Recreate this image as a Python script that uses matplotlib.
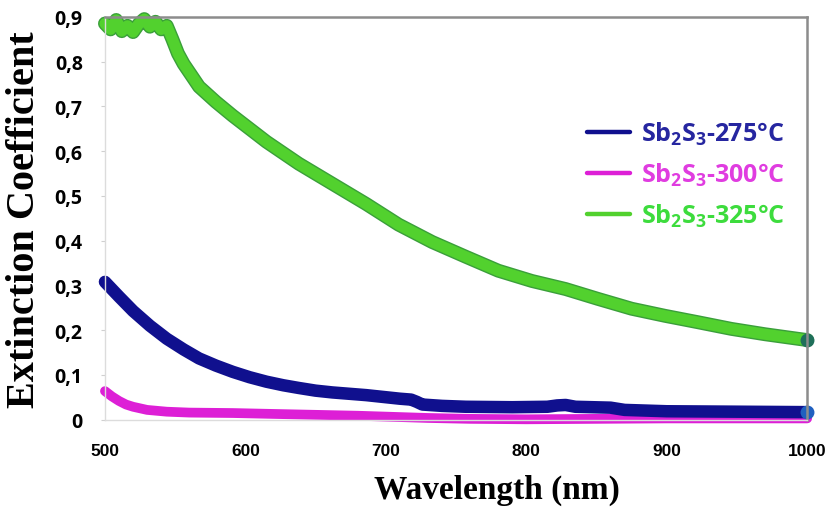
import matplotlib
matplotlib.use("Agg")
import matplotlib.pyplot as plt
import matplotlib.patheffects as pe

# values
wl_275 = [500, 510, 520, 532, 544, 556, 567, 579, 591, 603, 615, 627, 638, 650,
          662, 674, 686, 698, 710, 718, 722, 726, 740, 757, 790, 815, 822, 828,
          835, 860, 870, 900, 950, 1000]
k_275 = [0.308, 0.275, 0.243, 0.210, 0.181, 0.157, 0.137, 0.121, 0.107, 0.095,
         0.085, 0.077, 0.071, 0.065, 0.061, 0.058, 0.055, 0.051, 0.047, 0.045,
         0.040, 0.034, 0.031, 0.029, 0.028, 0.029, 0.032, 0.033, 0.029, 0.027,
         0.022, 0.019, 0.018, 0.017]

wl_300 = [500, 505, 510, 515, 520, 530, 544, 560, 591, 620, 650, 680, 700, 730,
          760, 800, 850, 900, 950, 1000]
k_300 = [0.064, 0.052, 0.042, 0.034, 0.029, 0.022, 0.018, 0.016, 0.015, 0.013,
         0.011, 0.009, 0.007, 0.004, 0.002, 0.001, 0.002, 0.003, 0.003, 0.003]

wl_325 = [500, 504, 508, 512, 516, 520, 524, 528, 532, 536, 540, 544, 548, 552,
          556, 567, 579, 591, 615, 638, 662, 686, 709, 733, 757, 780, 804, 828,
          851, 875, 899, 922, 946, 970, 1000]
k_325 = [0.885, 0.872, 0.893, 0.868, 0.880, 0.866, 0.884, 0.895, 0.878, 0.889,
         0.872, 0.880, 0.850, 0.818, 0.795, 0.744, 0.710, 0.679, 0.621, 0.572,
         0.527, 0.482, 0.436, 0.397, 0.364, 0.333, 0.310, 0.292, 0.270, 0.248,
         0.232, 0.218, 0.203, 0.191, 0.178]

labels = ["Sb$_\\mathbf{2}$S$_\\mathbf{3}$-275°C",
          "Sb$_\\mathbf{2}$S$_\\mathbf{3}$-300°C",
          "Sb$_\\mathbf{2}$S$_\\mathbf{3}$-325°C"]
x_ticks = [500, 600, 700, 800, 900, 1000]
y_ticks = [0, 0.1, 0.2, 0.3, 0.4, 0.5, 0.6, 0.7, 0.8, 0.9]
y_ticklabels = ["0", "0,1", "0,2", "0,3", "0,4", "0,5", "0,6", "0,7", "0,8", "0,9"]

plt.rcParams['mathtext.fontset'] = 'custom'
plt.rcParams['mathtext.rm'] = 'Open Sans'
plt.rcParams['mathtext.bf'] = 'Open Sans:bold'

fig = plt.figure(figsize=(8.33, 5.10), dpi=100)
ax = fig.add_axes([0.126, 0.175, 0.843, 0.790])

blue = '#10108e'
pink = '#dd1fd6'
green = '#52d12e'

ax.plot(wl_300, k_300, color=pink, lw=7, solid_capstyle='round', clip_on=False,
        label=labels[1])
ax.plot(wl_275, k_275, color=blue, lw=9, solid_capstyle='round', clip_on=False,
        label=labels[0])
ax.plot(wl_325, k_325, color=green, lw=8, solid_capstyle='round', clip_on=False,
        label=labels[2],
        path_effects=[pe.Stroke(linewidth=10, foreground='#3a9f3a'), pe.Normal()])
# dark end points like the original
ax.plot([wl_325[-1]], [k_325[-1]], 'o', ms=9, color='#1f6f5a', clip_on=False)
ax.plot([wl_275[-1]], [k_275[-1]], 'o', ms=9, color='#2060c0', clip_on=False)

ax.set_xlim(500, 1000)
ax.set_ylim(0, 0.9)
ax.set_xticks(x_ticks)
ax.set_xticklabels([str(v) for v in x_ticks], fontsize=12.5, fontweight='bold',
                   family='Liberation Sans')
ax.set_yticks(y_ticks)
ax.set_yticklabels(y_ticklabels, fontsize=14, fontweight='bold', family='Open Sans')
ax.tick_params(axis='y', length=3, color='#d0d0d0', pad=13)
ax.tick_params(axis='x', length=0, pad=17)

for side in ['top', 'right']:
    ax.spines[side].set_color('#8c8c8c')
    ax.spines[side].set_linewidth(1.8)
for side in ['left', 'bottom']:
    ax.spines[side].set_color('#dcdcdc')
    ax.spines[side].set_linewidth(1.0)

ax.set_xlabel('Wavelength (nm)', family='Liberation Serif', fontweight='bold',
              fontsize=24)
ax.xaxis.set_label_coords(0.558, -0.135)
ax.set_ylabel('Extinction Coefficient', family='Liberation Serif', fontweight='bold',
              fontsize=29)
ax.yaxis.set_label_coords(-0.088, 0.5)

handles, labs = ax.get_legend_handles_labels()
order = [1, 0, 2]
leg = ax.legend([handles[i] for i in order], [labs[i] for i in order],
                loc='upper left', bbox_to_anchor=(0.655, 0.80), frameon=False,
                handlelength=1.7, handletextpad=0.45, labelspacing=0.55,
                prop={'family': 'Open Sans', 'weight': 'bold', 'size': 18})
for line in leg.get_lines():
    line.set_linewidth(3.2)
    line.set_path_effects([])
leg_colors = ['#2626a0', '#e03ce0', '#3ddc3d']
for t, c in zip(leg.get_texts(), leg_colors):
    t.set_color(c)

fig.savefig('out.png', dpi=100)
